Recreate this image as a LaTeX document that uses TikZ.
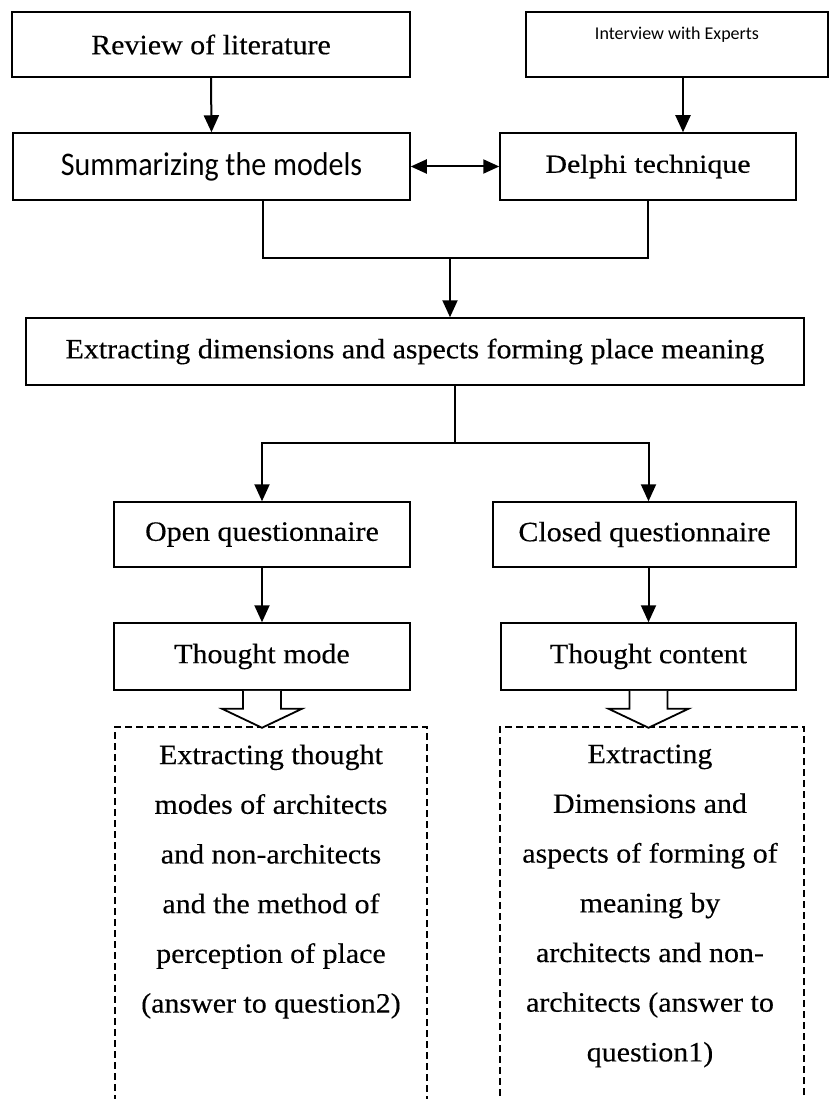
\documentclass[tikz,border=0pt]{standalone}
\usepackage{fontspec}
\setmainfont{Liberation Serif}
\newfontfamily\serifwide{Liberation Serif}[FakeStretch=1.07,FakeBold=0.3]
\newfontfamily\delphifont{Liberation Serif}[FakeStretch=1.15,FakeBold=0.3]
\newfontfamily\calfont{Carlito}[FakeStretch=0.91]
\newfontfamily\calsmall{Carlito}
\usetikzlibrary{arrows.meta}
\begin{document}
\begin{tikzpicture}[x=1pt,y=-1pt,
  box/.style={draw=black, line width=1.5pt, rectangle, inner sep=0pt, align=center,
    font=\serifwide\fontsize{28}{32}\selectfont},
  conn/.style={line width=2pt, -{Triangle[length=17pt,width=15pt]}},
  plain/.style={line width=2pt},
  dbl/.style={line width=2pt, {Triangle[length=16pt,width=14pt]}-{Triangle[length=16pt,width=14pt]}},
  frame/.style={draw=black, dash pattern=on 7pt off 4pt, line width=1.1pt, inner sep=0pt},
  hollow/.style={draw=black, line width=1.8pt, fill=white, line join=miter},
  bodytext/.style={inner sep=0pt, align=center, anchor=north,
    font=\serifwide\fontsize{28}{49.7}\selectfont}]
\useasboundingbox (0,0) rectangle (829,1099);
\clip (0,0) rectangle (829,1099);

% boxes
\node[box, minimum width=398pt, minimum height=65pt] (rev) at (211,44.5) {Review of literature};
\node[box, minimum width=302pt, minimum height=65pt,
  label={[name=intvtext, yshift=10pt, font=\calsmall\fontsize{18}{20}\selectfont]center:Interview with Experts}] (intv) at (677,44.5) {};
\node[box, minimum width=397pt, minimum height=67pt, font=\calfont\fontsize{33}{36}\selectfont] (summ) at (211.5,166.5) {Summarizing the models};
\node[box, minimum width=296pt, minimum height=67pt, font=\delphifont\fontsize{26}{30}\selectfont] (delphi) at (648,166.5) {Delphi technique};
\node[box, minimum width=778pt, minimum height=67pt] (extr) at (415,351.5) {Extracting dimensions and aspects forming place meaning};
\node[box, minimum width=296pt, minimum height=65pt] (open) at (262,534.5) {Open questionnaire};
\node[box, minimum width=303pt, minimum height=65pt] (closed) at (644.5,534.5) {Closed questionnaire};
\node[box, minimum width=296pt, minimum height=67pt] (mode) at (262,656.5) {Thought mode};
\node[box, minimum width=295pt, minimum height=67pt] (content) at (648.5,656.5) {Thought content};

% dashed frames with text
\node[frame, minimum width=312pt, minimum height=383pt] (frameL) at (271,918.5) {};
\node[frame, minimum width=304pt, minimum height=383pt] (frameR) at (652,918.5) {};
\node[bodytext] (textL) at ([yshift=-18pt]frameL.north) {Extracting thought\\modes of architects\\and non-architects\\and the method of\\perception of place\\(answer to question2)};
\node[bodytext] (textR) at ([yshift=-18pt,xshift=-2pt]frameR.north) {Extracting\\Dimensions and\\aspects of forming of\\meaning by\\architects and non-\\architects (answer to\\question1)};

% connectors
\coordinate (ix) at (683,0);
\draw[conn] (rev.south) -- (summ.north);
\draw[conn] (intv.south -| ix) -- (delphi.north -| ix);
\draw[dbl] (summ.east) -- (delphi.west);

\coordinate (jL) at (263,258);
\coordinate (jR) at (648,258);
\coordinate (jM) at (450,258);
\draw[plain] (summ.south -| jL) -- (jL) -- (jR) -- (delphi.south -| jR);
\draw[conn] (jM) -- (extr.north -| jM);

\coordinate (kM) at (455,443);
\coordinate (kL) at (262,443);
\coordinate (kR) at (648.5,443);
\draw[plain] (extr.south -| kM) -- (kM);
\draw[conn] (kM) -- (kL) -- (open.north);
\draw[conn] (kM) -- (kR) -- (closed.north -| kR);
\draw[conn] (open.south) -- (mode.north);
\draw[conn] (closed.south -| content.north) -- (content.north);

% hollow block arrows
\draw[hollow] (mode.south) ++(-19,0) -- ++(0,18) -- ++(-21,0) -- ++(40,19) -- ++(40,-19) -- ++(-21,0) -- ++(0,-18);
\draw[hollow] (content.south) ++(-19,0) -- ++(0,18) -- ++(-21,0) -- ++(40,19) -- ++(40,-19) -- ++(-21,0) -- ++(0,-18);
\end{tikzpicture}
\end{document}
